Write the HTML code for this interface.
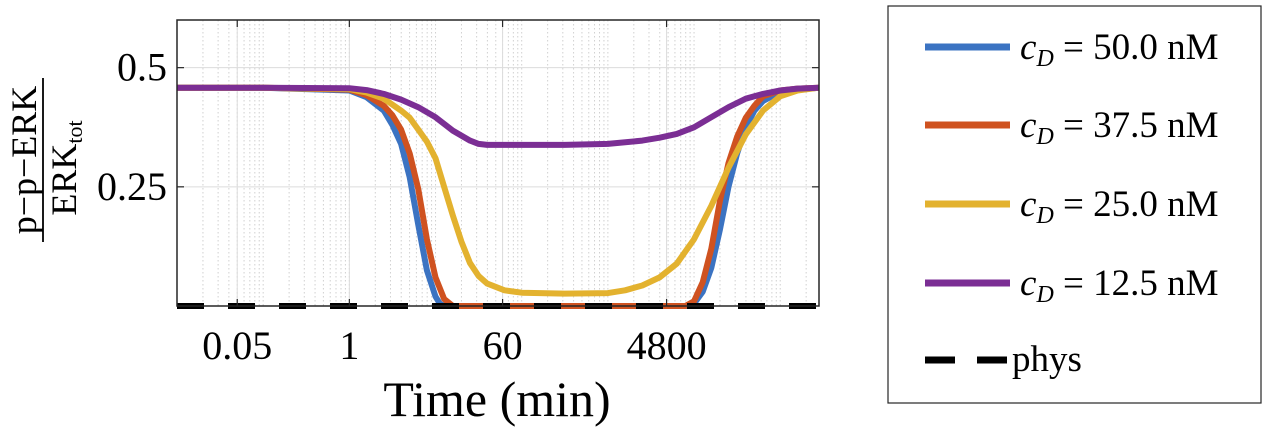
<!DOCTYPE html>
<html><head><meta charset="utf-8"><style>
body{margin:0;background:#fff;width:1280px;height:433px;overflow:hidden;font-family:"Liberation Serif",serif}
svg text{font-family:"Liberation Serif",serif}
</style></head><body>
<svg id="chart" width="1280" height="433">
<g id="grid"></g>
<g id="series"></g>
<rect x="177" y="20" width="642" height="286" fill="none" stroke="#262626" stroke-width="1.5"/>
<g id="axes"></g>
<text x="497" y="416" font-size="50" text-anchor="middle">Time (min)</text>
<g>
<text transform="translate(36,160) rotate(-90)" font-size="36" text-anchor="middle">p−p−ERK</text>
<line x1="43" y1="78" x2="43" y2="242" stroke="#000" stroke-width="1.8"/>
<text transform="translate(76,168) rotate(-90)" font-size="36" text-anchor="middle">ERK<tspan font-size="22" dy="6">tot</tspan></text>
</g>
<g id="legend">
<rect x="888" y="6" width="373" height="397" fill="#fff" stroke="#262626" stroke-width="1.2"/>
</g>
</svg>
<script>
const tickLabels=["0.05","1","60","4800"];
const tickValues=[0.05,1,60,4800];
const yTicks=[0.25,0.5];
const yTickLabels=["0.25","0.5"];
const legendLabels=["50.0","37.5","25.0","12.5"];
const colors=["#3b73c2","#cf5220","#e3b22f","#7b2e94"];
const blueT=[-2,-1,0,0.2,0.4,0.5,0.6,0.7,0.8,0.9,1.0,1.05,1.1,2,3,3.95,4.0,4.1,4.2,4.3,4.4,4.5,4.6,4.7,4.8,5.0,5.2,5.45];
const blueV=[0.458,0.458,0.452,0.438,0.41,0.38,0.34,0.27,0.17,0.075,0.02,0.005,0,0,0,0,0.005,0.03,0.08,0.16,0.25,0.32,0.375,0.41,0.43,0.449,0.454,0.458];
const redT=[-2,-1,0,0.2,0.4,0.5,0.6,0.7,0.8,0.9,1.0,1.1,1.2,2,3,3.9,4.0,4.1,4.2,4.3,4.4,4.5,4.6,4.7,4.8,5.0,5.2,5.45];
const redV=[0.458,0.458,0.454,0.442,0.42,0.4,0.37,0.32,0.245,0.14,0.06,0.015,0,0,0,0,0.01,0.05,0.12,0.22,0.3,0.355,0.395,0.42,0.44,0.452,0.456,0.458];
const yellowT=[-2,-1,0,0.2,0.4,0.6,0.7,0.8,0.9,1.0,1.1,1.2,1.3,1.4,1.5,1.6,1.8,2.0,2.5,3.0,3.2,3.4,3.6,3.8,4.0,4.2,4.4,4.6,4.8,5.0,5.2,5.45];
const yellowV=[0.458,0.458,0.455,0.448,0.435,0.41,0.395,0.37,0.345,0.31,0.25,0.19,0.135,0.09,0.063,0.047,0.033,0.028,0.026,0.027,0.033,0.043,0.06,0.089,0.14,0.21,0.29,0.36,0.41,0.44,0.452,0.458];
const purpleT=[-2,-1,0,0.2,0.4,0.6,0.8,1.0,1.2,1.4,1.5,1.6,2.5,3.0,3.4,3.6,3.8,4.0,4.2,4.4,4.6,4.8,5.0,5.2,5.45];
const purpleV=[0.458,0.458,0.457,0.453,0.445,0.433,0.417,0.396,0.368,0.347,0.34,0.338,0.338,0.34,0.347,0.353,0.361,0.375,0.396,0.417,0.435,0.445,0.452,0.456,0.458];
const seriesT=[blueT,redT,yellowT,purpleT];
const seriesV=[blueV,redV,yellowV,purpleV];

const NS="http://www.w3.org/2000/svg";
const X0=177,X1=819,Y0=306,Y1=20,LMIN=-2,LMAX=5.45,VMAX=0.6;
const xs=l=>X0+(l-LMIN)/(LMAX-LMIN)*(X1-X0);
const ys=v=>Y0-v/VMAX*(Y0-Y1);
function mk(tag,attrs,parent){const e=document.createElementNS(NS,tag);for(const k in attrs)e.setAttribute(k,attrs[k]);parent.appendChild(e);return e;}
const grid=document.getElementById('grid'),axes=document.getElementById('axes'),ser=document.getElementById('series'),leg=document.getElementById('legend');
for(let d=-2;d<=5;d++)for(let m=1;m<10;m++){const l=d+Math.log10(m);if(l<=LMIN||l>=LMAX)continue;
 const g=mk('line',{x1:xs(l),x2:xs(l),y1:Y1,y2:Y0,stroke:'#d0d0d0','stroke-width':1,'stroke-dasharray':'1.5,2.5'},grid);
 
 }
tickValues.forEach((tv,i)=>{const x=xs(Math.log10(tv));
 const g=mk('line',{x1:x,x2:x,y1:Y1,y2:Y0,stroke:'#dcdcdc','stroke-width':1},grid);
 
 
 mk('line',{x1:x,x2:x,y1:Y0,y2:Y0-7,stroke:'#262626','stroke-width':1.2},axes);
 mk('line',{x1:x,x2:x,y1:Y1,y2:Y1+7,stroke:'#262626','stroke-width':1.2},axes);
 const t=mk('text',{x:x,y:359,'font-size':40,'text-anchor':'middle'},axes);t.textContent=tickLabels[i];
 
 });
yTicks.forEach((v,i)=>{const y=ys(v);
 const g=mk('line',{x1:X0,x2:X1,y1:y,y2:y,stroke:'#dcdcdc','stroke-width':1},grid);
 
 
 mk('line',{x1:X0,x2:X0+7,y1:y,y2:y,stroke:'#262626','stroke-width':1.2},axes);
 mk('line',{x1:X1,x2:X1-7,y1:y,y2:y,stroke:'#262626','stroke-width':1.2},axes);
 const t=mk('text',{x:167,y:y+13,'font-size':40,'text-anchor':'end'},axes);t.textContent=yTickLabels[i];
 
 });
seriesT.forEach((T,s)=>{const d=T.map((l,i)=>(i?'L':'M')+xs(l).toFixed(1)+','+ys(seriesV[s][i]).toFixed(1)).join(' ');
 const p=mk('path',{d:d,fill:'none',stroke:colors[s],'stroke-width':6,'stroke-linejoin':'round'},ser);
 
 });
const ph=mk('line',{x1:X0,x2:X1,y1:ys(0),y2:ys(0),stroke:'#000','stroke-width':6,'stroke-dasharray':'27,24'},ser);


const ly=[47,125,204,283];
legendLabels.forEach((lab,i)=>{
 const g=mk('g',{},leg);
 
 
 mk('line',{x1:925,x2:1010,y1:ly[i],y2:ly[i],stroke:colors[i],'stroke-width':7},g);
 const t=mk('text',{x:1020,y:ly[i]+12,'font-size':37},g);
 t.innerHTML='<tspan font-style="italic">c</tspan><tspan font-style="italic" font-size="24" dy="7">D</tspan><tspan dy="-7"> = '+lab+' nM</tspan>';
});
const g=mk('g',{},leg);


mk('line',{x1:925,x2:1010,y1:360,y2:360,stroke:'#000','stroke-width':7,'stroke-dasharray':'30,22'},g);
const pt=mk('text',{x:1012,y:371,'font-size':37},g);pt.textContent='phys';
</script>
</body></html>
